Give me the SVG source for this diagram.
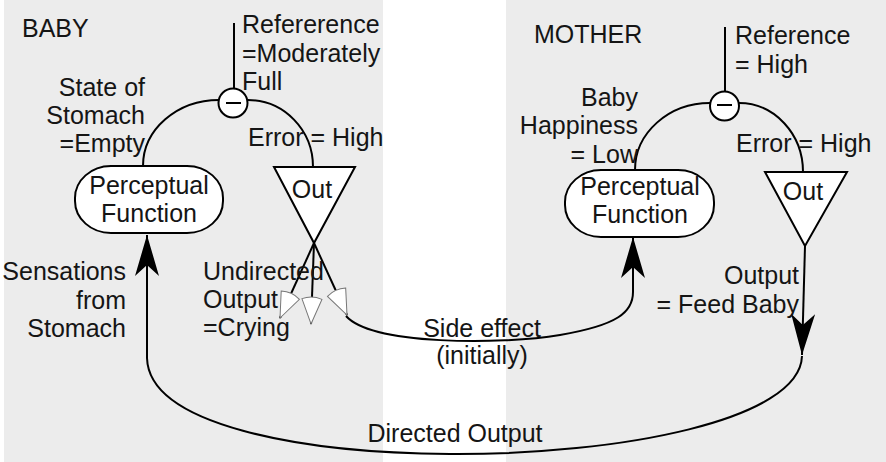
<svg xmlns="http://www.w3.org/2000/svg" width="886" height="462" viewBox="0 0 886 462">
<defs>
<style>
text{font-family:"Liberation Sans",Arial,sans-serif;font-size:25px;fill:#151515}
.ln{fill:none;stroke:#000;stroke-width:2}
.box{fill:#fff;stroke:#000;stroke-width:2}
.e{text-anchor:end}
.m{text-anchor:middle}
</style>
<marker id="blk" markerUnits="userSpaceOnUse" viewBox="-42 -14 44 28" refX="0" refY="0" markerWidth="44" markerHeight="28" orient="auto">
<path d="M0,0 L-41,-12 L-30,0 L-41,12 Z" fill="#000"/>
</marker>
<marker id="wht" markerUnits="userSpaceOnUse" viewBox="-32 -13 34 26" refX="0" refY="0" markerWidth="34" markerHeight="26" orient="auto">
<path d="M0,0 L-25,-10 Q-29,0 -25,10 Z" fill="#fff" stroke="#777" stroke-width="1"/>
</marker>
</defs>
<rect x="4" y="0" width="379" height="462" fill="#ececec"/>
<rect x="506" y="0" width="380" height="462" fill="#ececec"/>

<g id="connectors">
<line class="ln" x1="234" y1="23" x2="234" y2="89"/>
<path class="ln" d="M219,100 A76,66 0 0 0 143,166"/>
<path class="ln" d="M248,100 A65,67 0 0 1 313,167"/>
<line class="ln" x1="725" y1="27" x2="725" y2="92"/>
<path class="ln" d="M710,103 A75,67 0 0 0 635,170"/>
<path class="ln" d="M739,103 A64,69 0 0 1 803,172"/>
<line class="ln" x1="314" y1="243" x2="280" y2="318" marker-end="url(#wht)"/>
<line class="ln" x1="314" y1="243" x2="311" y2="324" marker-end="url(#wht)"/>
<line class="ln" x1="314" y1="243" x2="347" y2="315" marker-end="url(#wht)"/>
<path class="ln" d="M346,316 C372,345 500,345 560,335 C618,325 633,312 633,292 L633,237" marker-end="url(#blk)"/>
<line class="ln" x1="805" y1="246" x2="802" y2="355" marker-end="url(#blk)"/>
<path class="ln" d="M802,356 C800,420 620,455 450,454 C300,453 149,425 147,358 L147,235" marker-end="url(#blk)"/>
</g>

<g id="baby-label"><text x="22" y="37">BABY</text></g>
<g id="mother-label"><text x="534" y="43">MOTHER</text></g>

<g id="baby-comparator">
<circle class="box" cx="233" cy="103" r="14.5"/>
<line x1="226" y1="103" x2="241" y2="103" stroke="#000" stroke-width="2"/>
</g>
<g id="baby-reference">
<text x="242" y="33">Refererence</text>
<text x="242" y="62">=Moderately</text>
<text x="242" y="90">Full</text>
</g>
<g id="baby-state">
<text class="e" x="145" y="96">State of</text>
<text class="e" x="145" y="124">Stomach</text>
<text class="e" x="145" y="152">=Empty</text>
</g>
<g id="baby-error"><text x="248" y="146">Error = High</text></g>
<g id="baby-perceptual">
<rect class="box" x="75" y="166" width="148" height="67" rx="36" ry="32"/>
<text class="m" x="149" y="194">Perceptual</text>
<text class="m" x="149" y="222">Function</text>
</g>
<g id="baby-out">
<polygon class="box" points="274,167 355,167 314,243"/>
<text class="m" x="312" y="198">Out</text>
</g>
<g id="baby-sensations">
<text class="e" x="126" y="280">Sensations</text>
<text class="e" x="126" y="309">from</text>
<text class="e" x="126" y="337">Stomach</text>
</g>
<g id="baby-undirected">
<text x="203" y="280">Undirected</text>
<text x="203" y="308">Output</text>
<text x="203" y="336">=Crying</text>
</g>
<g id="side-effect">
<text class="m" x="482" y="337">Side effect</text>
<text class="m" x="482" y="364">(initially)</text>
</g>
<g id="directed-output"><text class="m" x="455" y="442">Directed Output</text></g>

<g id="mother-comparator">
<circle class="box" cx="724.5" cy="106" r="14.5"/>
<line x1="717" y1="105" x2="732" y2="105" stroke="#000" stroke-width="2"/>
</g>
<g id="mother-reference">
<text x="735" y="44">Reference</text>
<text x="735" y="73">= High</text>
</g>
<g id="mother-baby-happiness">
<text class="e" x="638" y="106">Baby</text>
<text class="e" x="638" y="134">Happiness</text>
<text class="e" x="638" y="163">= Low</text>
</g>
<g id="mother-error"><text x="736" y="152">Error = High</text></g>
<g id="mother-perceptual">
<rect class="box" x="565" y="170" width="149" height="67" rx="36" ry="32"/>
<text class="m" x="640" y="195">Perceptual</text>
<text class="m" x="640" y="223">Function</text>
</g>
<g id="mother-out">
<polygon class="box" points="765,172 847,172 805,246"/>
<text class="m" x="803" y="200">Out</text>
</g>
<g id="mother-output">
<text class="e" x="799" y="284">Output</text>
<text class="e" x="799" y="313">= Feed Baby</text>
</g>
</svg>
